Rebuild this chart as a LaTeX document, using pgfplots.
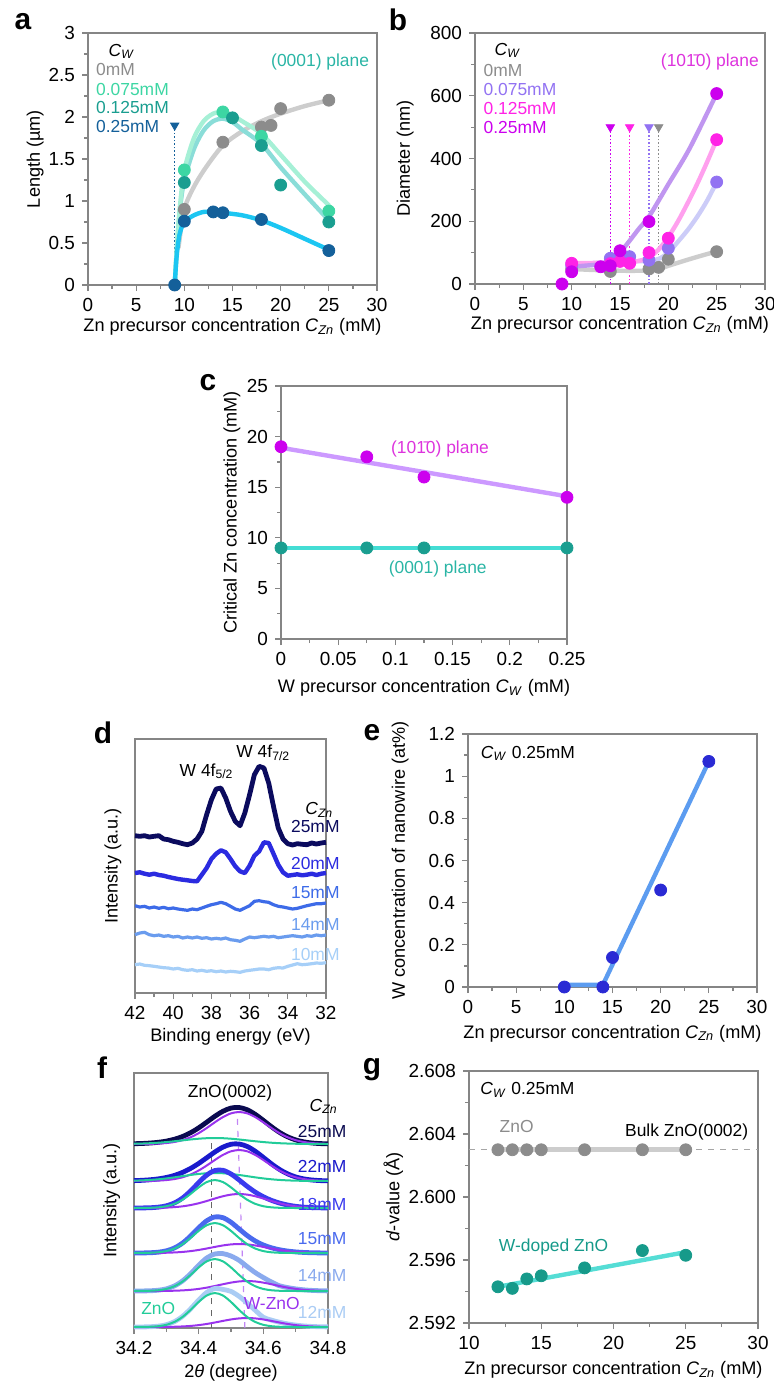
\documentclass[border=0pt]{standalone}
\usepackage{fontspec}
\setmainfont{Liberation Sans}
\usepackage{pgfplots}
\usepackage{pgfplotstable}
\pgfplotsset{compat=1.18}
\definecolor{framegray}{HTML}{858585}
\definecolor{agray}{HTML}{8C8C8C}
\definecolor{agrayl}{HTML}{CDCDCD}
\definecolor{agreen}{HTML}{3DD6A3}
\definecolor{agreenl}{HTML}{A6F0D6}
\definecolor{ateal}{HTML}{1A9E90}
\definecolor{ateall}{HTML}{8ADDD8}
\definecolor{ablue}{HTML}{14609A}
\definecolor{acyan}{HTML}{1CC6F2}
\definecolor{atealtxt}{HTML}{2AB5A5}
\definecolor{blav}{HTML}{9272F2}
\definecolor{blavl}{HTML}{CCCCF8}
\definecolor{bmag}{HTML}{FF22E6}
\definecolor{bmagl}{HTML}{FFA0EE}
\definecolor{bpur}{HTML}{CC00EE}
\definecolor{bpurl}{HTML}{C096F0}
\definecolor{btxt}{HTML}{DD33DD}
\definecolor{cpurl}{HTML}{CC99FF}
\definecolor{ctealine}{HTML}{44DDD4}
\definecolor{dnavy}{HTML}{0B0B5E}
\definecolor{dtwenty}{HTML}{2B2BE0}
\definecolor{dfifteen}{HTML}{3D6BE8}
\definecolor{dfourteen}{HTML}{6A9CEE}
\definecolor{dten}{HTML}{A6CFF8}
\definecolor{eline}{HTML}{5C9CF0}
\definecolor{ept}{HTML}{2A2AD4}
\definecolor{fgreen}{HTML}{22CC99}
\definecolor{fpur}{HTML}{9933EE}
\definecolor{fa}{HTML}{0A0A50}
\definecolor{fb}{HTML}{1A1ACC}
\definecolor{fc}{HTML}{3A3AEE}
\definecolor{fd}{HTML}{4A6AEE}
\definecolor{fe}{HTML}{8AAAEE}
\definecolor{ff}{HTML}{AACCF4}
\definecolor{gteal}{HTML}{169A8A}
\definecolor{gtealine}{HTML}{55DDD5}

\pgfplotsset{
  panel/.style={
    scale only axis, clip=false, anchor=south west,
    axis line style={draw=framegray, line width=0.7bp},
    tick style={draw=framegray, line width=0.6bp},
    tick align=outside, major tick length=3bp, minor tick length=2bp,
    tick pos=left, scaled ticks=false,
    tick label style={font=\fontsize{9.5}{11}\selectfont},
    label style={font=\fontsize{9.1}{10.8}\selectfont},
    /pgf/number format/assume math mode=true,
  },
  xlabpos/.style={xlabel style={at={(axis description cs:0.5,#1)},anchor=center}},
  ylabpos/.style={ylabel style={at={(axis description cs:#1,0.5)},anchor=center}},
  pt/.style={only marks, mark=*, mark size=3bp, mark options={fill=#1, draw=#1}},
  fit/.style={draw=#1, line width=2.2bp, line cap=round, line join=round},
  tri/.style={only marks, mark=triangle*, mark size=2.4bp, mark options={fill=#1, draw=#1, rotate=180}},
  vdot/.style={draw=#1, densely dotted, line width=0.8bp},
}
\newcommand{\txt}{\fontsize{8.75}{10.5}\selectfont}
\newcommand{\CW}{\textit{C}\textsubscript{\textit{W}}}
\newcommand{\CZn}{\textit{C}\textsubscript{\textit{Zn}}}

\pgfplotstableread{
x c25 c20 c15 c14 c10
42 157.3 120 87.3 58.3 28.3
41.75 156.7 120.7 86 60 29
41.5 157.3 119.3 86.7 60.7 27.7
41.25 156 118.3 85 58.3 27.3
41 156.7 119.3 86 57.3 26.7
40.75 157.3 118 84.7 58 26
40.5 154 117.3 85.7 56.7 25.3
40.25 153.3 116 84.3 57.3 25
40 151.7 115 85 56 24
39.75 150.7 114 84 56.7 24.7
39.5 149.3 113.3 83.3 55 23.3
39.25 148.3 112.7 82.7 56 22.7
39 150 112 84 55 23.3
38.75 154 111.7 83.3 56 22
38.5 161.7 118.3 85 54.7 22.7
38.25 178.3 125 86.7 55.3 21.7
38 193.3 134 88.3 54 22.3
37.75 204 139.3 89.3 54.7 21.3
37.5 205 142.7 90.7 54 22
37.25 195 140.7 89.3 55 21
37 181.7 134 86.7 53.3 21.7
36.75 171.7 126.7 84 52.7 21.3
36.5 167.3 121.7 82.7 51.7 20.7
36.25 180 120 85 54 22
36 198.3 127.3 87.3 56 22.7
35.75 218.3 137.3 91.7 55.3 23.3
35.5 226.7 141.7 92.3 56 24
35.25 225 150.7 91.3 56.7 24
35 210 150 90.7 56 23.3
34.75 186.7 139.3 88.3 56.7 24.7
34.5 165 128.3 86.7 55.3 25.3
34.25 154 120.7 86 56 25
34 149.3 117.3 85 56.7 26.7
33.75 148 118 84 57.3 28
33.5 149.3 118.7 84.7 56.7 29.3
33.25 148.7 117.7 86 56 28.3
33 148.3 118.3 87.3 57.3 28.7
32.75 150 119.3 88.3 56.7 29.3
32.5 149 118 89.3 58 30
32.25 150 119.3 89.3 57.3 29.7
32 150.7 120 90 58 30.3
}\tabd

\pgfplotstableread{
x d25 g25 p25 d22 g22 p22 d18 g18 p18 d15 g15 p15 d14 g14 p14 d12 g12 p12
34.200 0.3 0.26 0.02 0.37 0.35 0.02 0.02 0.01 0.01 0.03 0.02 0.01 0.02 0.02 0 0.02 0.02 0
34.225 0.54 0.48 0.06 0.7 0.64 0.06 0.09 0.06 0.03 0.08 0.06 0.02 0.08 0.07 0.01 0.08 0.07 0.01
34.250 0.98 0.81 0.17 1.25 1.08 0.17 0.29 0.21 0.08 0.28 0.23 0.05 0.26 0.24 0.02 0.28 0.26 0.02
34.275 1.72 1.3 0.42 2.13 1.73 0.4 0.85 0.67 0.18 0.83 0.71 0.12 0.81 0.76 0.05 0.86 0.81 0.05
34.300 2.91 1.95 0.96 3.53 2.6 0.93 2.21 1.79 0.42 2.19 1.92 0.27 2.18 2.05 0.13 2.3 2.18 0.12
34.325 4.77 2.75 2.02 5.61 3.66 1.95 5.05 4.17 0.88 5.04 4.47 0.57 5.07 4.77 0.3 5.34 5.07 0.27
34.350 7.48 3.64 3.84 8.58 4.86 3.72 9.94 8.26 1.68 9.93 8.85 1.08 10.07 9.44 0.63 10.6 10.03 0.57
34.375 11.28 4.53 6.75 12.58 6.04 6.54 17.03 14.08 2.95 16.99 15.09 1.9 17.3 16.1 1.2 18.18 17.1 1.08
34.400 16.15 5.3 10.85 17.56 7.06 10.5 25.39 20.64 4.75 25.16 22.11 3.05 25.69 23.58 2.11 26.96 25.06 1.9
34.425 21.84 5.81 16.03 23.25 7.75 15.5 32.97 25.96 7.01 32.32 27.81 4.51 33.05 29.66 3.39 34.57 31.52 3.05
34.450 27.7 6 21.7 29.0 8 21.0 37.49 28 9.49 36.1 30 6.1 37.01 32 5.01 38.51 34 4.51
34.475 32.71 5.81 26.9 33.85 7.75 26.1 37.73 25.96 11.77 35.38 27.81 7.57 37.4 29.66 6.78 37.6 31.52 6.1
34.500 35.96 5.3 30.66 36.76 7.06 29.7 34.05 20.64 13.41 30.73 22.11 8.62 35.0 23.58 8.41 35.6 25.06 7.57
34.525 36.53 4.53 32 37.04 6.04 31 28.08 14.08 14 24.09 15.09 9 30.7 16.1 9.58 30.7 17.1 8.62
34.550 34.3 3.64 30.66 34.56 4.86 29.7 21.67 8.26 13.41 17.47 8.85 8.62 24.4 9.44 10 24.0 10.03 9
34.575 29.65 2.75 26.9 29.76 3.66 26.1 15.94 4.17 11.77 12.04 4.47 7.57 18.4 4.77 9.58 16.7 5.07 8.62
34.600 23.65 1.95 21.7 23.6 2.6 21.0 11.28 1.79 9.49 8.02 1.92 6.1 13.5 2.05 8.41 9.75 2.18 7.57
34.625 17.33 1.3 16.03 17.23 1.73 15.5 7.68 0.67 7.01 5.22 0.71 4.51 9.0 0.76 6.78 6.9 0.81 6.1
34.650 11.66 0.81 10.85 11.58 1.08 10.5 4.96 0.21 4.75 3.28 0.23 3.05 5.25 0.24 5.01 4.77 0.26 4.51
34.675 7.23 0.48 6.75 7.18 0.64 6.54 3.01 0.06 2.95 1.96 0.06 1.9 3.46 0.07 3.39 3.12 0.07 3.05
34.700 4.1 0.26 3.84 4.07 0.35 3.72 1.69 0.01 1.68 1.1 0.02 1.08 2.13 0.02 2.11 1.92 0.02 1.9
34.725 2.16 0.14 2.02 2.13 0.18 1.95 0.88 0 0.88 0.57 0 0.57 1.2 0 1.2 1.08 0 1.08
34.750 1.03 0.07 0.96 1.02 0.09 0.93 0.42 0 0.42 0.27 0 0.27 0.63 0 0.63 0.57 0 0.57
34.775 0.45 0.03 0.42 0.44 0.04 0.4 0.18 0 0.18 0.12 0 0.12 0.3 0 0.3 0.27 0 0.27
34.800 0.18 0.01 0.17 0.19 0.02 0.17 0.08 0 0.08 0.05 0 0.05 0.13 0 0.13 0.12 0 0.12
}\tabf

\begin{document}
\begin{tikzpicture}
\path[use as bounding box] (0,0) rectangle (387bp,-691bp);

% panel letters
\begin{scope}[every node/.style={font=\fontsize{15}{17}\selectfont\bfseries, inner sep=0}]
\node at (11.5bp,-11bp) {a};
\node at (199bp,-10bp) {b};
\node at (104bp,-191.5bp) {c};
\node at (51.5bp,-366.5bp) {d};
\node at (186bp,-366.5bp) {e};
\node at (51bp,-534bp) {f};
\node at (186bp,-535bp) {g};
\end{scope}

%%%%%%%%%%%%%%%% a
\begin{axis}[panel, at={(44bp,-142.5bp)}, width=144.5bp, height=126bp,
  xmin=0, xmax=30, ymin=0, ymax=3,
  xtick={0,5,...,30}, ytick={0,0.5,...,3}, minor x tick num=1, minor y tick num=1,
  yticklabel style={/pgf/number format/.cd, fixed, precision=1},
  xlabel={Zn precursor concentration \CZn{} (mM)}, ylabel={Length (µm)},
  xlabpos=-0.167, ylabpos=-0.183]
\addplot[vdot=ablue] coordinates {(9,0) (9,1.9)};
\addplot[tri=ablue] coordinates {(9,1.9)};
\addplot[fit=agrayl, smooth] coordinates {(9.4,0.45) (10,0.9) (11,1.17) (12.3,1.41) (14,1.66) (16,1.83) (18,1.95) (20,2.04) (22.5,2.13) (25,2.2)};
\addplot[fit=ateall, smooth] coordinates {(9,0) (9.3,0.55) (9.6,0.95) (10,1.25) (11,1.62) (12,1.84) (13,1.95) (14,1.98) (15,1.94) (16,1.85) (18,1.68) (20,1.4) (22.5,1.08) (25,0.77)};
\addplot[fit=agreenl, smooth] coordinates {(9,0) (9.3,0.6) (9.6,1.0) (10,1.37) (11,1.75) (12,1.95) (13,2.04) (14,2.06) (15,2.02) (16,1.95) (18,1.8) (20,1.55) (22.5,1.23) (25,0.95)};
\addplot[fit=acyan, smooth] coordinates {(9,0) (9.2,0.34) (9.5,0.6) (10,0.75) (11,0.83) (12,0.87) (13,0.87) (14,0.86) (16,0.83) (18,0.77) (20,0.68) (22.5,0.55) (25,0.42)};
\addplot[pt=agray] coordinates {(10,0.9) (14,1.7) (18,1.88) (19,1.9) (20,2.1) (25,2.2)};
\addplot[pt=agreen] coordinates {(10,1.37) (14,2.06) (18,1.77) (25,0.88)};
\addplot[pt=ateal] coordinates {(10,1.22) (15,1.99) (18,1.66) (20,1.19) (25,0.75)};
\addplot[pt=ablue] coordinates {(9,0) (10,0.76) (13,0.87) (14,0.86) (18,0.78) (25,0.41)};
\begin{scope}[every node/.style={font=\txt, inner sep=0, anchor=west}]
\node at (axis cs:2.1,2.78) {\CW};
\node[text=agray] at (axis cs:0.8,2.56) {0mM};
\node[text=agreen] at (axis cs:0.8,2.33) {0.075mM};
\node[text=ateal] at (axis cs:0.8,2.11) {0.125mM};
\node[text=ablue] at (axis cs:0.8,1.89) {0.25mM};
\node[text=atealtxt, anchor=center] at (axis cs:24.1,2.66) {(0001) plane};
\end{scope}
\end{axis}

%%%%%%%%%%%%%%%% b
\begin{axis}[panel, at={(237.5bp,-142bp)}, width=145bp, height=125.5bp,
  xmin=0, xmax=30, ymin=0, ymax=800,
  xtick={0,5,...,30}, ytick={0,200,...,800}, minor x tick num=1, minor y tick num=1,
  xlabel={Zn precursor concentration \CZn{} (mM)}, ylabel={Diameter (nm)},
  xlabpos=-0.163, ylabpos=-0.241]
\addplot[vdot=bpur] coordinates {(14,0) (14,500)};
\addplot[vdot=bmag] coordinates {(16,0) (16,500)};
\addplot[vdot=blav] coordinates {(18,0) (18,500)};
\addplot[vdot=agray] coordinates {(19,0) (19,500)};
\addplot[tri=bpur] coordinates {(14,500)};
\addplot[tri=bmag] coordinates {(16,500)};
\addplot[tri=blav] coordinates {(18,500)};
\addplot[tri=agray] coordinates {(19,500)};
\addplot[fit=agrayl, smooth] coordinates {(10,48) (12,45) (14,43) (16,42) (18,43) (19,47) (20,58) (22.5,82) (25,104)};
\addplot[fit=blavl, smooth] coordinates {(10,62) (12,66) (14,70) (16,72) (18,74) (19,80) (20,100) (21,135) (22,172) (23,215) (24,265) (25,325)};
\addplot[fit=bmagl, smooth] coordinates {(10,66) (12,67) (14,68) (16,70) (17,74) (18,85) (19,110) (20,150) (21,200) (22,258) (23,320) (24,388) (25,460)};
\addplot[fit=bpurl, smooth] coordinates {(10,55) (12,60) (13,63) (14,70) (15,100) (16,138) (17,178) (18,215) (20,318) (22.2,432) (25,607)};
\addplot[pt=agray] coordinates {(10,48) (14,40) (18,48) (19,53) (20,79) (25,103)};
\addplot[pt=blav] coordinates {(10,60) (14,82) (16,87) (18,76) (20,114) (25,325)};
\addplot[pt=bmag] coordinates {(10,66) (14,65) (15,72) (16,66) (18,100) (20,146) (25,460)};
\addplot[pt=bpur] coordinates {(9,0) (10,39) (13,55) (14,58) (15,106) (18,199) (25,607)};
\begin{scope}[every node/.style={font=\txt, inner sep=0, anchor=west}]
\node at (axis cs:2.0,745) {\CW};
\node[text=agray] at (axis cs:0.85,681) {0mM};
\node[text=blav] at (axis cs:0.85,620) {0.075mM};
\node[text=bmag] at (axis cs:0.85,559) {0.125mM};
\node[text=bpur] at (axis cs:0.85,498) {0.25mM};
\node[text=btxt, anchor=center] at (axis cs:24.3,708) {(10\={1}0) plane};
\end{scope}
\end{axis}

%%%%%%%%%%%%%%%% c
\begin{axis}[panel, at={(140.5bp,-319.5bp)}, width=143bp, height=126.5bp,
  xmin=0, xmax=0.25, ymin=0, ymax=25,
  xtick={0,0.05,0.1,0.15,0.2,0.25}, ytick={0,5,...,25}, minor x tick num=1, minor y tick num=1,
  xticklabel style={/pgf/number format/.cd, fixed, precision=2},
  xlabel={W precursor concentration \CW{} (mM)}, ylabel={Critical Zn concentration (mM)},
  xlabpos=-0.194, ylabpos=-0.172]
\addplot[fit=cpurl] coordinates {(0,18.9) (0.25,14.1)};
\addplot[fit=ctealine] coordinates {(0,9) (0.25,9)};
\addplot[pt=bpur] coordinates {(0,19) (0.075,18) (0.125,16) (0.25,14)};
\addplot[pt=ateal] coordinates {(0,9) (0.075,9) (0.125,9) (0.25,9)};
\node[font=\txt, inner sep=0, text=btxt] at (axis cs:0.139,18.8) {(10\={1}0) plane};
\node[font=\txt, inner sep=0, text=atealtxt] at (axis cs:0.137,6.9) {(0001) plane};
\end{axis}

%%%%%%%%%%%%%%%% d
\begin{axis}[panel, at={(67.5bp,-496.5bp)}, width=95.5bp, height=127bp,
  xmin=32, xmax=42, x dir=reverse, ymin=0, ymax=254,
  xtick={32,34,...,42}, minor x tick num=1, ytick=\empty,
  xlabel={Binding energy (eV)}, ylabel={Intensity (a.u.)},
  xlabpos=-0.172, ylabpos=-0.115]
\addplot[draw=dten, line width=1.6bp, line join=round] table[x=x, y=c10] {\tabd};
\addplot[draw=dfourteen, line width=1.6bp, line join=round] table[x=x, y=c14] {\tabd};
\addplot[draw=dfifteen, line width=1.6bp, line join=round] table[x=x, y=c15] {\tabd};
\addplot[draw=dtwenty, line width=2.2bp, line join=round] table[x=x, y=c20] {\tabd};
\addplot[draw=dnavy, line width=2.4bp, line join=round] table[x=x, y=c25] {\tabd};
\begin{scope}[every node/.style={font=\txt, inner sep=0}]
\node at (axis cs:38.25,221.7) {W 4f\textsubscript{5/2}};
\node at (axis cs:35.28,240) {W 4f\textsubscript{7/2}};
\node[anchor=east] at (axis cs:31.6,183) {\CZn};
\node[anchor=east, text=dnavy] at (axis cs:31.27,167) {25mM};
\node[anchor=east, text=dtwenty] at (axis cs:31.27,130) {20mM};
\node[anchor=east, text=dfifteen] at (axis cs:31.27,100) {15mM};
\node[anchor=east, text=dfourteen] at (axis cs:31.27,69) {14mM};
\node[anchor=east, text=dten] at (axis cs:31.27,39) {10mM};
\end{scope}
\end{axis}

%%%%%%%%%%%%%%%% e
\begin{axis}[panel, at={(234bp,-493.5bp)}, width=144.5bp, height=126.5bp,
  xmin=0, xmax=30, ymin=0, ymax=1.2,
  xtick={0,5,...,30}, ytick={0,0.2,0.4,0.6,0.8,1,1.2}, minor x tick num=1, minor y tick num=1,
  yticklabel style={/pgf/number format/.cd, fixed, precision=1},
  xlabel={Zn precursor concentration \CZn{} (mM)}, ylabel={W concentration of nanowire (at\%)},
  xlabpos=-0.183, ylabpos=-0.235]
\addplot[fit=eline] coordinates {(10,0.01) (14,0.01) (25,1.07)};
\addplot[pt=ept] coordinates {(10,0) (14,0) (15,0.14) (20,0.46) (25,1.07)};
\node[font=\txt, inner sep=0, anchor=west] at (axis cs:1.3,1.108) {\CW{} 0.25mM};
\end{axis}

%%%%%%%%%%%%%%%% f
\begin{axis}[panel, at={(67bp,-664bp)}, width=97bp, height=127.5bp,
  xmin=34.2, xmax=34.8, ymin=0, ymax=255,
  xtick={34.2,34.4,34.6,34.8}, minor x tick num=1, ytick=\empty,
  xticklabel style={/pgf/number format/.cd, fixed, precision=1},
  xlabel={2\textit{θ} (degree)}, ylabel={Intensity (a.u.)},
  xlabpos=-0.176, ylabpos=-0.115]
\addplot[draw=gray!80!black, dashed, line width=0.6bp] coordinates {(34.44,0) (34.44,190)};
\addplot[draw=fpur!60, dashed, line width=0.6bp] coordinates {(34.543,0) (34.519,216.7)};
% 25
\addplot[draw=fa, line width=2.4bp, smooth] table[x=x, y expr=\thisrow{d25}+184] {\tabf};
\addplot[draw=fpur, line width=1bp, smooth] table[x=x, y expr=\thisrow{p25}+184] {\tabf};
\addplot[draw=fgreen, line width=1bp, smooth] table[x=x, y expr=\thisrow{g25}+184] {\tabf};
% 22
\addplot[draw=fb, line width=2.4bp, smooth] table[x=x, y expr=\thisrow{d22}+147] {\tabf};
\addplot[draw=fpur, line width=1bp, smooth] table[x=x, y expr=\thisrow{p22}+147] {\tabf};
\addplot[draw=fgreen, line width=1bp, smooth] table[x=x, y expr=\thisrow{g22}+147] {\tabf};
% 18
\addplot[draw=fc, line width=2.4bp, smooth] table[x=x, y expr=\thisrow{d18}+120] {\tabf};
\addplot[draw=fpur, line width=1bp, smooth] table[x=x, y expr=\thisrow{p18}+120] {\tabf};
\addplot[draw=fgreen, line width=1bp, smooth] table[x=x, y expr=\thisrow{g18}+120] {\tabf};
% 15
\addplot[draw=fd, line width=2.4bp, smooth] table[x=x, y expr=\thisrow{d15}+75] {\tabf};
\addplot[draw=fpur, line width=1bp, smooth] table[x=x, y expr=\thisrow{p15}+75] {\tabf};
\addplot[draw=fgreen, line width=1bp, smooth] table[x=x, y expr=\thisrow{g15}+75] {\tabf};
% 14
\addplot[draw=fe, line width=2.4bp, smooth] table[x=x, y expr=\thisrow{d14}+37] {\tabf};
\addplot[draw=fpur, line width=1bp, smooth] table[x=x, y expr=\thisrow{p14}+37] {\tabf};
\addplot[draw=fgreen, line width=1bp, smooth] table[x=x, y expr=\thisrow{g14}+37] {\tabf};
% 12
\addplot[draw=ff, line width=2.4bp, smooth] table[x=x, y expr=\thisrow{d12}+1] {\tabf};
\addplot[draw=fpur, line width=1bp, smooth] table[x=x, y expr=\thisrow{p12}+1] {\tabf};
\addplot[draw=fgreen, line width=1bp, smooth] table[x=x, y expr=\thisrow{g12}+1] {\tabf};
\begin{scope}[every node/.style={font=\txt, inner sep=0}]
\node at (axis cs:34.497,235) {ZnO(0002)};
\node[anchor=east] at (axis cs:34.831,221.7) {\CZn};
\node[anchor=east, text=fa] at (axis cs:34.858,196.7) {25mM};
\node[anchor=east, text=fb] at (axis cs:34.858,161.7) {22mM};
\node[anchor=east, text=fc] at (axis cs:34.858,123.3) {18mM};
\node[anchor=east, text=fd] at (axis cs:34.858,89) {15mM};
\node[anchor=east, text=fe] at (axis cs:34.858,52.3) {14mM};
\node[anchor=east, text=ff] at (axis cs:34.858,15.7) {12mM};
\node[text=fgreen] at (axis cs:34.275,20) {ZnO};
\node[text=fpur] at (axis cs:34.626,25) {W-ZnO};
\end{scope}
\end{axis}

%%%%%%%%%%%%%%%% g
\begin{axis}[panel, at={(234.5bp,-661.5bp)}, width=144.5bp, height=126bp,
  xmin=10, xmax=30, ymin=2.592, ymax=2.608,
  xtick={10,15,...,30}, ytick={2.592,2.596,2.600,2.604,2.608}, minor x tick num=1, minor y tick num=1,
  yticklabel style={/pgf/number format/.cd, fixed, fixed zerofill, precision=3},
  xlabel={Zn precursor concentration \CZn{} (mM)}, ylabel={\textit{d}-value (Å)},
  xlabpos=-0.187, ylabpos=-0.262]
\addplot[draw=gray!70, dashed, line width=0.6bp] coordinates {(10,2.603) (30,2.603)};
\addplot[draw=agrayl, line width=2.6bp] coordinates {(12,2.603) (25,2.603)};
\addplot[fit=gtealine] coordinates {(12,2.5943) (25,2.5965)};
\addplot[pt=agray] coordinates {(12,2.603) (13,2.603) (14,2.603) (15,2.603) (18,2.603) (22,2.603) (25,2.603)};
\addplot[pt=gteal] coordinates {(12,2.5943) (13,2.5942) (14,2.5948) (15,2.5950) (18,2.5955) (22,2.5966) (25,2.5963)};
\begin{scope}[every node/.style={font=\txt, inner sep=0}]
\node[anchor=west] at (axis cs:10.76,2.6068) {\CW{} 0.25mM};
\node[text=agray] at (axis cs:13.3,2.6045) {ZnO};
\node[anchor=east] at (axis cs:29.35,2.6041) {Bulk ZnO(0002)};
\node[text=gteal] at (axis cs:15.85,2.5968) {W-doped ZnO};
\end{scope}
\end{axis}
\end{tikzpicture}
\end{document}
